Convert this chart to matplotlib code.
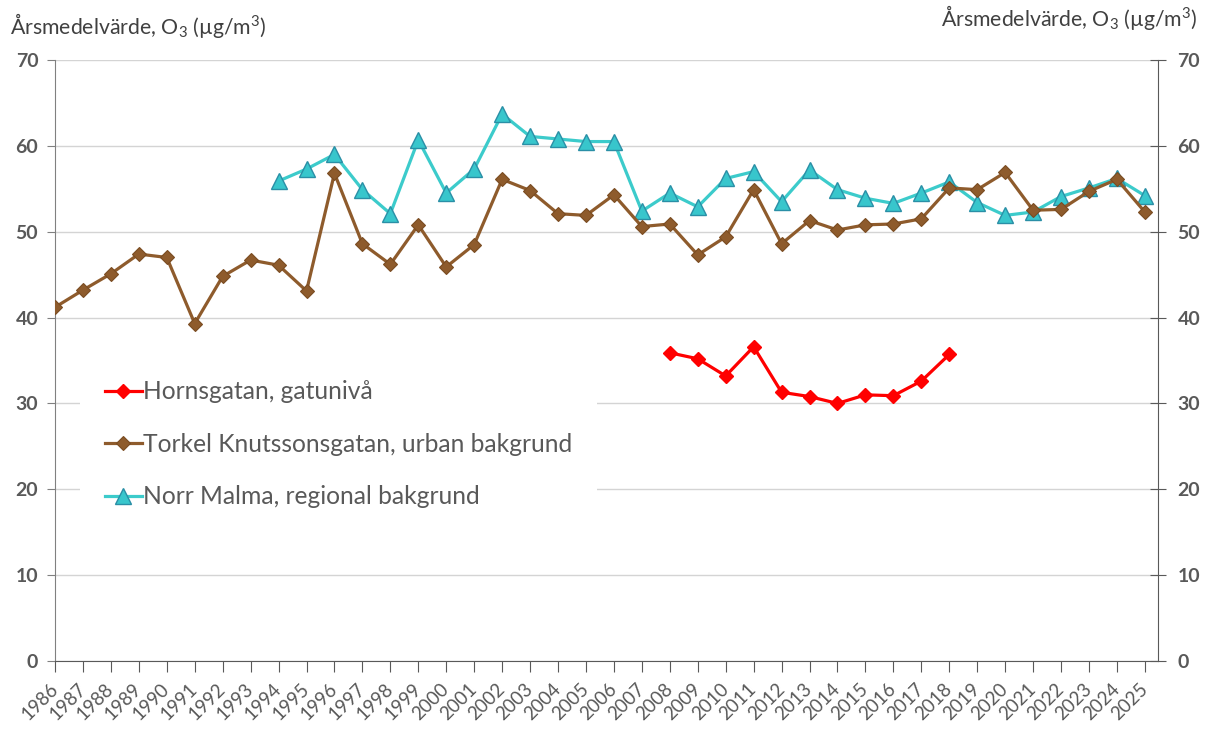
import numpy as np
import matplotlib.pyplot as plt

plt.rcParams['font.family'] = ['Lato', 'DejaVu Sans']
plt.rcParams['mathtext.fontset'] = 'custom'
plt.rcParams['mathtext.rm'] = 'Lato'
plt.rcParams['mathtext.it'] = 'Lato:italic'

# annual mean O3, ug/m3
years = list(range(1986, 2026))

torkel = [41.2, 43.2, 45.1, 47.4, 47.0, 39.3, 44.8, 46.7, 46.1, 43.1,
          56.8, 48.6, 46.2, 50.8, 45.9, 48.5, 56.1, 54.8, 52.1, 51.9,
          54.3, 50.6, 50.9, 47.3, 49.4, 54.9, 48.6, 51.3, 50.2, 50.8,
          50.9, 51.5, 55.1, 54.9, 56.9, 52.5, 52.6, 54.7, 56.1, 52.3]

malma_years = list(range(1994, 2026))
malma = [55.9, 57.3, 59.0, 54.9, 52.1, 60.7, 54.5, 57.3, 63.7, 61.1,
         60.8, 60.5, 60.5, 52.4, 54.5, 52.9, 56.2, 57.0, 53.5, 57.2,
         54.9, 53.9, 53.3, 54.5, 55.8, 53.4, 51.9, 52.3, 54.1, 55.1,
         56.2, 54.2]

horns_years = list(range(2008, 2019))
horns = [35.9, 35.2, 33.2, 36.6, 31.3, 30.8, 30.0, 31.0, 30.9, 32.6, 35.7]

labels = ['Hornsgatan, gatunivå',
          'Torkel Knutssonsgatan, urban bakgrund',
          'Norr Malma, regional bakgrund']

txt = '#595959'
title = 'Årsmedelvärde, O$_3$ (µg/m$^3$)'

fig = plt.figure(figsize=(12.15, 7.29), dpi=100)
ax = fig.add_axes([55/1215, 1 - 661/729, 1103/1215, 601/729])

ax.plot(horns_years, horns, color='#FF0000', lw=2.3, marker='D', ms=7.5,
        mfc='#FF0000', mec='#FF0000', label=labels[0], zorder=4)
ax.plot(years, torkel, color='#8E5B2C', lw=2.3, marker='D', ms=7.5,
        mfc='#8E5B2C', mec='#7A4C22', mew=0.8, label=labels[1], zorder=3)
ax.plot(malma_years, malma, color='#3CCBCB', lw=2.3, marker='^', ms=11,
        mfc='#38C6CC', mec='#2A8FA6', mew=1, label=labels[2], zorder=2)

ax.set_xlim(1986, 2025.47)
ax.set_ylim(0, 70)
ax.set_yticks(range(0, 71, 10))
ax.set_xticks(years)
ax.set_xticklabels([str(y) for y in years], rotation=45, ha='right',
                   rotation_mode='anchor', va='center', fontsize=13.5, color=txt)
ax.grid(axis='y', color='#D4D4D4', lw=1)
ax.set_axisbelow(True)

ax.spines['top'].set_visible(False)
ax.spines['right'].set_visible(False)
ax.spines['left'].set_color('#808080')
ax.spines['bottom'].set_color('#595959')
ax.tick_params(axis='x', direction='out', length=8, color='#595959', pad=10)
ax.tick_params(axis='y', direction='out', length=6, color='#808080',
               labelsize=14, labelcolor=txt, pad=6)
for t in ax.get_yticklabels():
    t.set_fontweight('bold')

ax2 = ax.twinx()
ax2.set_ylim(0, 70)
ax2.set_yticks(range(0, 71, 10))
for s in ['top', 'left', 'bottom']:
    ax2.spines[s].set_visible(False)
ax2.spines['right'].set_color('#595959')
ax2.tick_params(axis='y', direction='inout', length=12, color='#595959',
                labelsize=14, labelcolor=txt, pad=8)
for t in ax2.get_yticklabels():
    t.set_fontweight('bold')

leg = ax.legend(loc='upper left', bbox_to_anchor=(0.023, 0.508), fontsize=17.7,
                frameon=True, facecolor='white', edgecolor='none', framealpha=1,
                fancybox=False, numpoints=1, handlelength=1.5, handletextpad=0.05,
                labelspacing=1.2, borderpad=1.0, borderaxespad=0)
for t in leg.get_texts():
    t.set_color(txt)
leg.set_zorder(10)

fig.text(10/1215, 1 - 25/729, title, fontsize=15.3, color='#404040',
         ha='left', va='center')
fig.text(1197/1215, 1 - 18/729, title, fontsize=15.3, color='#404040',
         ha='right', va='center')

fig.savefig('out.png', dpi=100)
